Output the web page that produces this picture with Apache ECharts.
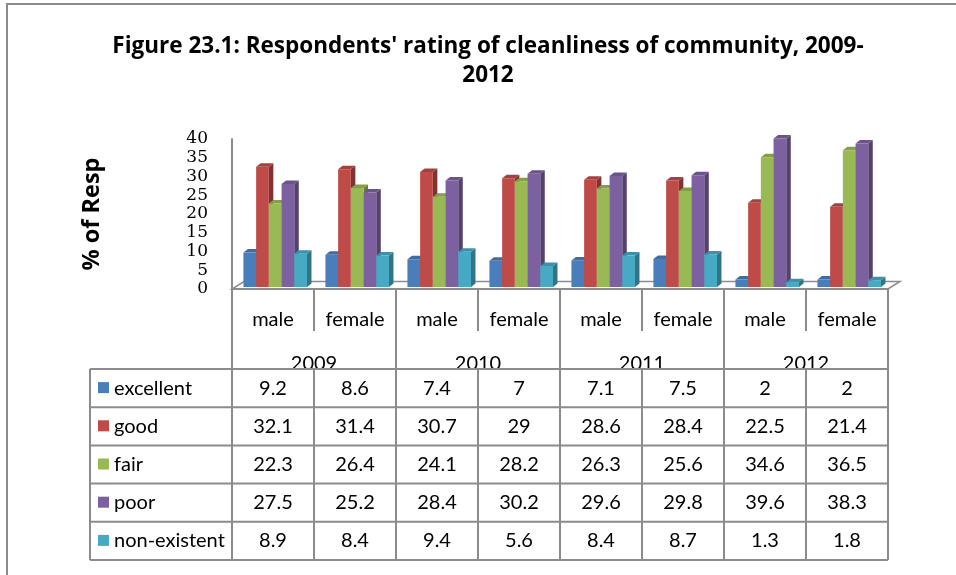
<!DOCTYPE html>
<html>
<head>
<meta charset="utf-8">
<script src="https://cdn.jsdelivr.net/npm/echarts@6/dist/echarts.min.js"></script>
<style>
  html, body { margin: 0; padding: 0; background: #fff; }
  #chart { width: 956px; height: 575px; }
</style>
</head>
<body>
<div id="chart"></div>
<script>
// Respondents' rating of cleanliness of community, by sex and year (%)
const categories = ['male', 'female', 'male', 'female', 'male', 'female', 'male', 'female'];
const years = ['2009', '2010', '2011', '2012'];
const ratings = ['excellent', 'good', 'fair', 'poor', 'non-existent'];

const excellent   = [9.2, 8.6, 7.4, 7, 7.1, 7.5, 2, 2];
const good        = [32.1, 31.4, 30.7, 29, 28.6, 28.4, 22.5, 21.4];
const fair        = [22.3, 26.4, 24.1, 28.2, 26.3, 25.6, 34.6, 36.5];
const poor        = [27.5, 25.2, 28.4, 30.2, 29.6, 29.8, 39.6, 38.3];
const nonExistent = [8.9, 8.4, 9.4, 5.6, 8.4, 8.7, 1.3, 1.8];

const yMin = 0, yMax = 40, yStep = 5;

const seriesValues = [excellent, good, fair, poor, nonExistent];
const palette = ['#4a7ebb', '#be4b48', '#98b954', '#7d60a0', '#46aac5'];

const FONT = 'Lato, "Open Sans", sans-serif';
const HEAD_FONT = '"Open Sans", Lato, sans-serif';
const LINE = '#8c8c8c';

function shade(hex, f) {
  const n = parseInt(hex.slice(1), 16);
  const r = Math.round(((n >> 16) & 255) * f);
  const g = Math.round(((n >> 8) & 255) * f);
  const b = Math.round((n & 255) * f);
  return 'rgb(' + r + ',' + g + ',' + b + ')';
}

// pseudo-3D column: front face, right side face and top face
function makeBar3D(k) {
  const front = palette[k];
  const side = shade(front, 0.68);
  const top = shade(front, 0.86);
  return function (params, api) {
    const ci = api.value(0);
    const v = api.value(1);
    const base = api.coord([ci, 0]);
    const tip = api.coord([ci, v]);
    const band = api.size([1, 0])[0];
    const w = band * 0.155;
    const dx = 4.5, dy = 3.5, lift = 2;
    const x0 = base[0] - 2.5 * w + 2.2 + k * w;
    const by = base[1] - lift;
    const ty = tip[1] - lift;
    return {
      type: 'group',
      children: [
        { type: 'polygon', shape: { points: [[x0 + w, ty], [x0 + w + dx, ty - dy], [x0 + w + dx, by - dy], [x0 + w, by]] },
          style: { fill: side } },
        { type: 'polygon', shape: { points: [[x0, ty], [x0 + dx, ty - dy], [x0 + w + dx, ty - dy], [x0 + w, ty]] },
          style: { fill: top } },
        { type: 'rect', shape: { x: x0, y: ty, width: w, height: by - ty },
          style: { fill: front } }
      ]
    };
  };
}

const chart = echarts.init(document.getElementById('chart'), null, { renderer: 'canvas' });

const series = ratings.map((name, k) => ({
  name: name,
  type: 'custom',
  xAxisIndex: 0,
  yAxisIndex: 0,
  z: 3,
  renderItem: makeBar3D(k),
  itemStyle: { color: palette[k] },
  encode: { x: 0, y: 1 },
  data: seriesValues[k].map((v, i) => [i, v])
}));

chart.setOption({
  animation: false,
  backgroundColor: '#fff',
  title: {
    text: "Figure 23.1: Respondents' rating of cleanliness of community, 2009-\n2012",
    left: 488,
    top: 32,
    textAlign: 'center',
    padding: 0,
    textStyle: { fontFamily: HEAD_FONT, fontSize: 22.5, fontWeight: 'bold', color: '#000', lineHeight: 29 }
  },
  grid: { left: 232, right: 68, top: 139, bottom: 286, containLabel: false },
  xAxis: [
    {
      type: 'category',
      data: categories,
      position: 'bottom',
      axisLine: { show: true, lineStyle: { color: LINE, width: 2 } },
      axisTick: { show: true, alignWithLabel: false, interval: 0, length: 42, lineStyle: { color: LINE, width: 2 } },
      axisLabel: { interval: 0, margin: 21, fontFamily: FONT, fontSize: 20, color: '#000' },
      splitLine: { show: false }
    },
    {
      type: 'category',
      data: years,
      position: 'bottom',
      axisLine: { show: false },
      axisTick: { show: true, alignWithLabel: false, interval: 0, length: 270, lineStyle: { color: LINE, width: 2 } },
      axisLabel: { interval: 0, margin: 65, fontFamily: FONT, fontSize: 20, color: '#000' },
      splitLine: { show: false }
    }
  ],
  yAxis: {
    type: 'value',
    min: yMin,
    max: yMax,
    interval: yStep,
    name: '% of Resp',
    nameLocation: 'middle',
    nameRotate: 90,
    nameGap: 128,
    nameTextStyle: { fontFamily: HEAD_FONT, fontSize: 23.5, fontWeight: 'bold', color: '#000' },
    axisLine: { show: true, lineStyle: { color: LINE, width: 2 } },
    axisTick: { show: false },
    splitLine: { show: false },
    axisLabel: { margin: 24, fontFamily: '"DejaVu Serif", serif', fontSize: 17, color: '#000' }
  },
  series: series
});

// Floor, frame and data table, positioned from the category axis scale
function buildGraphics() {
  const centers = categories.map((c, i) => chart.convertToPixel({ xAxisIndex: 0 }, i));
  const band = centers[1] - centers[0];
  const bounds = centers.map(c => c - band / 2).concat([centers[centers.length - 1] + band / 2]);
  const left = bounds[0], right = bounds[bounds.length - 1];
  const floorY = chart.convertToPixel({ yAxisIndex: 0 }, yMin);

  const tableTop = floorY + 80;
  const rowH = 38.2;
  const tableLeft = 90;
  const tableBottom = tableTop + rowH * ratings.length;

  const els = [];
  // outer frame
  els.push({ type: 'rect', z: 0, shape: { x: 7, y: 4, width: 1000, height: 1000 },
    style: { fill: null, stroke: LINE, lineWidth: 2 } });
  // floor
  els.push({ type: 'polygon', z: 1,
    shape: { points: [[left, floorY], [right, floorY], [right + 12, floorY - 7.5], [left + 12, floorY - 7.5]] },
    style: { fill: '#fff', stroke: LINE, lineWidth: 1.5 } });
  els.push({ type: 'line', z: 1, shape: { x1: left, y1: floorY, x2: right, y2: floorY },
    style: { stroke: LINE, lineWidth: 2 } });

  // table background (hides lower part of the year labels)
  els.push({ type: 'rect', z: 20, shape: { x: tableLeft, y: tableTop, width: right - tableLeft, height: tableBottom - tableTop },
    style: { fill: '#fff', stroke: null } });
  // horizontal rules
  for (let r = 0; r <= ratings.length; r++) {
    const y = tableTop + r * rowH;
    els.push({ type: 'line', z: 21, shape: { x1: tableLeft, y1: y, x2: right, y2: y },
      style: { stroke: LINE, lineWidth: 2 } });
  }
  // vertical rules
  [tableLeft].concat(bounds).forEach(x => {
    els.push({ type: 'line', z: 21, shape: { x1: x, y1: tableTop, x2: x, y2: tableBottom },
      style: { stroke: LINE, lineWidth: 2 } });
  });
  // row keys and values
  ratings.forEach((name, r) => {
    const cy = tableTop + (r + 0.5) * rowH;
    els.push({ type: 'rect', z: 22, shape: { x: 98, y: cy - 6, width: 11, height: 11 },
      style: { fill: palette[r] } });
    els.push({ type: 'text', z: 22, x: 114, y: cy,
      style: { text: name, fill: '#000', font: '20px ' + FONT, textAlign: 'left', textVerticalAlign: 'middle' } });
    seriesValues[r].forEach((v, i) => {
      els.push({ type: 'text', z: 22, x: centers[i], y: cy,
        style: { text: String(v), fill: '#000', font: '20px ' + FONT, textAlign: 'center', textVerticalAlign: 'middle' } });
    });
  });
  chart.setOption({ graphic: { elements: els } });
}
buildGraphics();
</script>
</body>
</html>
